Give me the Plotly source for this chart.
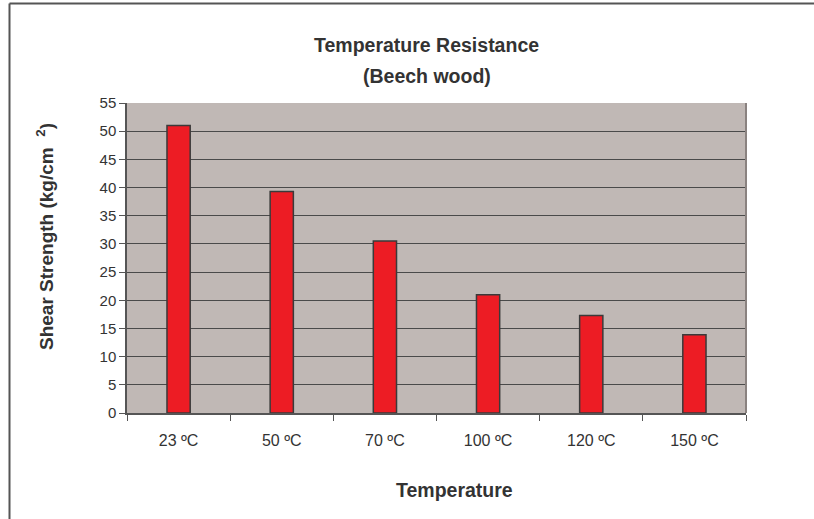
import plotly.graph_objects as go

categories = ["23 ºC", "50 ºC", "70 ºC", "100 ºC", "120 ºC", "150 ºC"]
shear_strength = [51, 39.3, 30.5, 21, 17.3, 13.9]
y_ticks = list(range(0, 60, 5))

W, H = 814, 519
L, R, T, B = 127, 746, 103, 413

def px(x):
    return (x - L) / (R - L)

def py(y):
    return (B - y) / (B - T)

FONT = "Liberation Sans, Arial, sans-serif"
TXT = "#333333"

fig = go.Figure(go.Bar(
    x=categories,
    y=shear_strength,
    marker=dict(color="#ed1c24", line=dict(color="#3a3a3a", width=1.5)),
    width=0.225,
))

fig.update_layout(
    width=W, height=H,
    margin=dict(l=L, r=W - R, t=T, b=H - B),
    paper_bgcolor="white",
    plot_bgcolor="#c0b8b5",
    showlegend=False,
    font=dict(family=FONT, color=TXT, size=15),
    annotations=[
        dict(text="<b>Temperature Resistance</b>", x=px(426), y=py(45), xref="paper", yref="paper",
             showarrow=False, font=dict(size=19.5, color=TXT), xanchor="center", yanchor="middle"),
        dict(text="<b>(Beech wood)</b>", x=px(427), y=py(76), xref="paper", yref="paper",
             showarrow=False, font=dict(size=19.5, color=TXT), xanchor="center", yanchor="middle"),
        dict(text="<b>Shear Strength (kg/cm  <sup>2</sup>)</b>", x=px(45), y=py(237), xref="paper", yref="paper",
             showarrow=False, textangle=-90, font=dict(size=19, color=TXT), xanchor="center", yanchor="middle"),
        dict(text="<b>Temperature</b>", x=px(454), y=py(490), xref="paper", yref="paper",
             showarrow=False, font=dict(size=19.5, color=TXT), xanchor="center", yanchor="middle"),
    ],
    shapes=[
        dict(type="line", xref="paper", yref="paper", x0=px(9.5), x1=px(W + 5), y0=py(3.5), y1=py(3.5),
             line=dict(color="#555555", width=2)),
        dict(type="line", xref="paper", yref="paper", x0=px(9.5), x1=px(9.5), y0=py(3.5), y1=py(H + 5),
             line=dict(color="#555555", width=2)),
    ],
)

fig.update_xaxes(
    type="category",
    showgrid=False,
    showline=True, linecolor="#555555", linewidth=1.5,
    mirror=False,
    ticks="outside", ticklen=6, tickcolor="#555555", tickwidth=1,
    tickson="boundaries",
    ticklabelstandoff=12,
    tickfont=dict(size=16, color=TXT, family=FONT),
)
fig.update_yaxes(
    range=[0, 55],
    tickvals=y_ticks,
    showgrid=True, gridcolor="#4a4a4a", gridwidth=1.2,
    showline=True, linecolor="#555555", linewidth=1.5,
    ticks="outside", ticklen=6, tickcolor="#555555", tickwidth=1,
    tickfont=dict(size=15, color=TXT, family=FONT),
    zeroline=False,
)

# plot area right border
fig.add_shape(type="line", xref="paper", yref="paper", x0=1, x1=1, y0=0, y1=1,
              line=dict(color="#8a8280", width=2))

fig.write_html("out.html", config={"displayModeBar": False},
               post_script="document.body.style.margin='0';")
